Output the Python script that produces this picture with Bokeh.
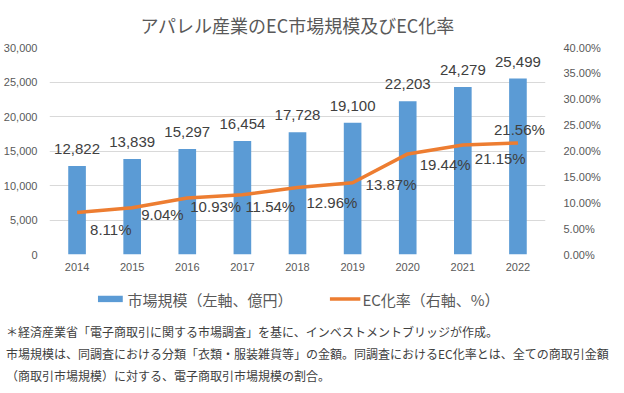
from bokeh.plotting import figure
from bokeh.models import (ColumnDataSource, FactorRange, Range1d, LinearAxis,
                          NumeralTickFormatter, FixedTicker, Legend, LegendItem, Div)
from bokeh.layouts import column
from bokeh.embed import file_html
from bokeh.resources import INLINE
from bokeh.core.properties import value

# ---- data ----
years = ["2014", "2015", "2016", "2017", "2018", "2019", "2020", "2021", "2022"]
market_size = [12822, 13839, 15297, 16454, 17728, 19100, 22203, 24279, 25499]  # 億円
ec_rate = [8.11, 9.04, 10.93, 11.54, 12.96, 13.87, 19.44, 21.15, 21.56]         # %
left_ticks = [0, 5000, 10000, 15000, 20000, 25000, 30000]
right_ticks = [0.0, 0.05, 0.10, 0.15, 0.20, 0.25, 0.30, 0.35, 0.40]

title_text = "アパレル産業のEC市場規模及びEC化率"
legend_bar = "市場規模（左軸、億円）"
legend_line = "EC化率（右軸、%）"
notes = [
    "＊経済産業省「電子商取引に関する市場調査」を基に、インベストメントブリッジが作成。",
    "市場規模は、同調査における分類「衣類・服装雑貨等」の金額。同調査におけるEC化率とは、全ての商取引金額",
    "（商取引市場規模）に対する、電子商取引市場規模の割合。",
]

# ---- label placement (style, screen px) ----
rate_label_dx = [13, 9, 3, 3, 9, 13, 12, 12, -24]
rate_label_dy = [17, 7, 9, 12, 15, 2, 11, 13, -13]

BLUE = "#5B9BD5"
ORANGE = "#ED7D31"
AXIS_TXT = "#595959"
LABEL_TXT = "#404040"
GRID = "#D9D9D9"
JP = "Noto Sans CJK JP"
NUM = "Liberation Sans"

src = ColumnDataSource(dict(
    year=years,
    size=market_size,
    size_txt=[f"{v:,}" for v in market_size],
    rate=[r / 100 for r in ec_rate],
    rate_txt=[f"{r:.2f}%" for r in ec_rate],
    dx=rate_label_dx,
    dy=rate_label_dy,
))

# ---------------- main chart ----------------
p = figure(width=608, height=274, x_range=FactorRange(*years, range_padding=0),
           y_range=Range1d(0, 30000), output_backend="svg", toolbar_location=None,
           min_border_left=41, min_border_right=63, min_border_top=40, min_border_bottom=20,
           title=title_text)
p.extra_y_ranges = {"pct": Range1d(0, 0.40)}
p.outline_line_color = None
p.background_fill_color = "white"

p.title.align = "center"
p.title.text_font = JP
p.title.text_font_size = "18px"
p.title.text_font_style = "normal"
p.title.text_color = AXIS_TXT
p.title.standoff = 19

bars = p.vbar(x="year", top="size", width=0.32, source=src, fill_color=BLUE, line_color=None)
line = p.line(x="year", y="rate", source=src, y_range_name="pct", line_color=ORANGE, line_width=3.5)

p.text(x="year", y="size", text="size_txt", source=src, text_align="center",
       text_baseline="middle", y_offset=-17, text_font=value(NUM), text_font_size="15px",
       text_color=LABEL_TXT)
p.text(x="year", y="rate", text="rate_txt", source=src, y_range_name="pct",
       text_align="left", text_baseline="middle", x_offset="dx", y_offset="dy",
       text_font=value(NUM), text_font_size="15px", text_color=LABEL_TXT)

p.xgrid.grid_line_color = None
p.ygrid.grid_line_color = GRID
p.ygrid.ticker = FixedTicker(ticks=left_ticks)

ya = p.yaxis[0]
ya.ticker = FixedTicker(ticks=left_ticks)
ya.formatter = NumeralTickFormatter(format="0,0")
ya.axis_line_color = None
ya.major_tick_line_color = None
ya.minor_tick_line_color = None
ya.major_label_standoff = 6
ya.major_label_text_font = NUM
ya.major_label_text_font_size = "11px"
ya.major_label_text_color = AXIS_TXT

xa = p.xaxis[0]
xa.axis_line_color = None
xa.major_tick_line_color = None
xa.minor_tick_line_color = None
xa.major_label_standoff = 2
xa.major_label_text_font = NUM
xa.major_label_text_font_size = "11px"
xa.major_label_text_color = AXIS_TXT

ra = LinearAxis(y_range_name="pct", ticker=FixedTicker(ticks=right_ticks),
                formatter=NumeralTickFormatter(format="0.00%"))
ra.axis_line_color = None
ra.major_tick_line_color = None
ra.minor_tick_line_color = None
ra.major_label_standoff = 12
ra.major_label_text_font = NUM
ra.major_label_text_font_size = "11px"
ra.major_label_text_color = AXIS_TXT
p.add_layout(ra, "right")

# ---------------- legend strip (same series, hidden renderers) ----------------
lf = figure(width=608, height=35, x_range=FactorRange(*years, range_padding=0),
            y_range=Range1d(-2, -1), output_backend="svg", toolbar_location=None,
            min_border_left=41, min_border_right=63, min_border_top=14, min_border_bottom=0)
lf.xaxis.visible = False
lf.yaxis.visible = False
lf.grid.visible = False
lf.outline_line_color = None
lbar = lf.vbar(x="year", top="size", width=0.32, source=src, fill_color=BLUE, line_color=None)
lline = lf.line(x="year", y="rate", source=src, line_color=ORANGE, line_width=3.5)
lbar.visible = False
lline.visible = False
legend = Legend(items=[LegendItem(label=legend_bar, renderers=[lbar]),
                       LegendItem(label=legend_line, renderers=[lline])],
                orientation="horizontal", location="center",
                glyph_width=31, glyph_height=8, label_standoff=2, spacing=37,
                label_text_font=JP, label_text_font_size="15px", label_text_color=AXIS_TXT,
                border_line_color=None, background_fill_alpha=0, padding=0, margin=0,
                inactive_fill_alpha=0)
lf.add_layout(legend, "center")

# ---------------- footnotes ----------------
note_html = ('<div style="padding:12px 0 0 6px; line-height:22px; font-size:12px; '
             f'font-family:\'{JP}\'; color:{LABEL_TXT}; white-space:nowrap;">'
             + "<br>".join(notes) + "</div>")
div = Div(text=note_html, width=608, height=68, margin=(0, 0, 0, 0))

layout = column(p, lf, div, spacing=0)
open("out.html", "w").write(file_html(layout, INLINE))
